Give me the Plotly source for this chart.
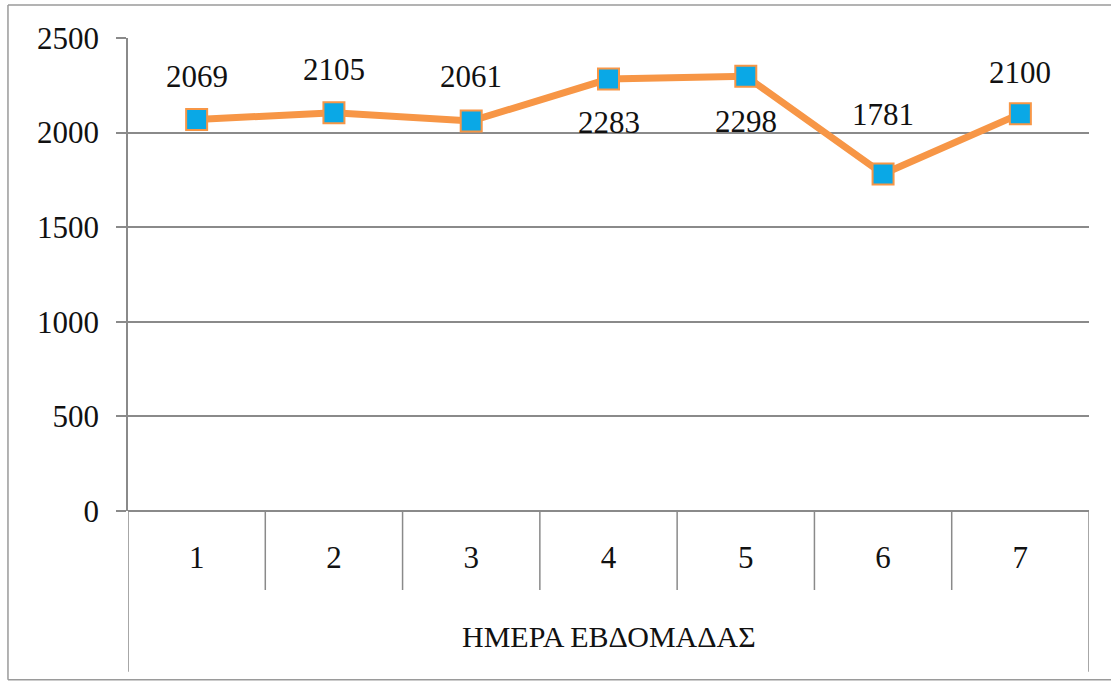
import plotly.graph_objects as go

days = ["1", "2", "3", "4", "5", "6", "7"]
values = [2069, 2105, 2061, 2283, 2298, 1781, 2100]
y_ticks = [0, 500, 1000, 1500, 2000, 2500]
x_title = "ΗΜΕΡΑ ΕΒΔΟΜΑΔΑΣ"

# styling: vertical offset (px) of each value label from its marker
label_shift = [43, 43, 45, -43, -45, 60, 41]

FONT = "Times New Roman"
GRID = "#8a8a8a"
BORDER = "#9a9a9a"

xs = list(range(1, len(days) + 1))

fig = go.Figure()
fig.add_trace(go.Scatter(
    x=xs, y=values, mode="lines+markers",
    line=dict(color="#F79646", width=7),
    marker=dict(symbol="square", size=21, color="#0AA8E6",
                line=dict(color="#F79646", width=2)),
    hoverinfo="skip", showlegend=False,
))

annotations = []
for x, v, s in zip(xs, values, label_shift):
    annotations.append(dict(
        x=x, y=v, xref="x", yref="y", text=str(v), showarrow=False,
        yshift=s,
        font=dict(family=FONT, size=31, color="#111111"),
    ))
annotations.append(dict(
    x=0.5, y=-0.266, xref="paper", yref="paper", text=x_title,
    showarrow=False, yanchor="middle",
    font=dict(family=FONT, size=30, color="#111111"),
))

shapes = []
for k in range(1, len(days)):
    shapes.append(dict(type="line", xref="x", yref="paper",
                       x0=k + 0.5, x1=k + 0.5, y0=0, y1=-0.167,
                       line=dict(color=GRID, width=1.5)))
for xe in (0.5, len(days) + 0.5):
    shapes.append(dict(type="line", xref="x", yref="paper",
                       x0=xe, x1=xe, y0=0, y1=-0.340,
                       line=dict(color=GRID, width=1.5)))
# chart border (left, top, bottom; right edge lies outside the picture)
bl, bt, bb, br = -0.1249, 1.0698, -0.357, 1.05
for (x0, y0, x1, y1) in [(bl, bb, bl, bt), (bl, bt, br, bt), (bl, bb, br, bb)]:
    shapes.append(dict(type="line", xref="paper", yref="paper",
                       x0=x0, y0=y0, x1=x1, y1=y1,
                       line=dict(color=BORDER, width=1.5)))

fig.update_layout(
    width=1111, height=682,
    margin=dict(l=128, r=22, t=38, b=171),
    paper_bgcolor="white", plot_bgcolor="white",
    annotations=annotations, shapes=shapes,
    xaxis=dict(
        range=[0.5, len(days) + 0.5], tickvals=xs, ticktext=days,
        showgrid=False, zeroline=False, showline=False, ticks="",
        ticklabelstandoff=25,
        tickfont=dict(family=FONT, size=31, color="#111111"),
        fixedrange=True,
    ),
    yaxis=dict(
        range=[0, 2500], tickvals=y_ticks,
        showgrid=True, gridcolor=GRID, gridwidth=1.5,
        zeroline=True, zerolinecolor=GRID, zerolinewidth=1.5,
        showline=True, linecolor=GRID, linewidth=1.5,
        ticks="outside", ticklen=10, tickcolor=GRID, tickwidth=1.5,
        ticklabelstandoff=11,
        tickfont=dict(family=FONT, size=31, color="#111111"),
        fixedrange=True,
    ),
)

fig.write_html(
    "out.html",
    config={"displayModeBar": False},
    post_script="document.body.style.margin='0';"
                "document.body.style.overflow='hidden';",
)
